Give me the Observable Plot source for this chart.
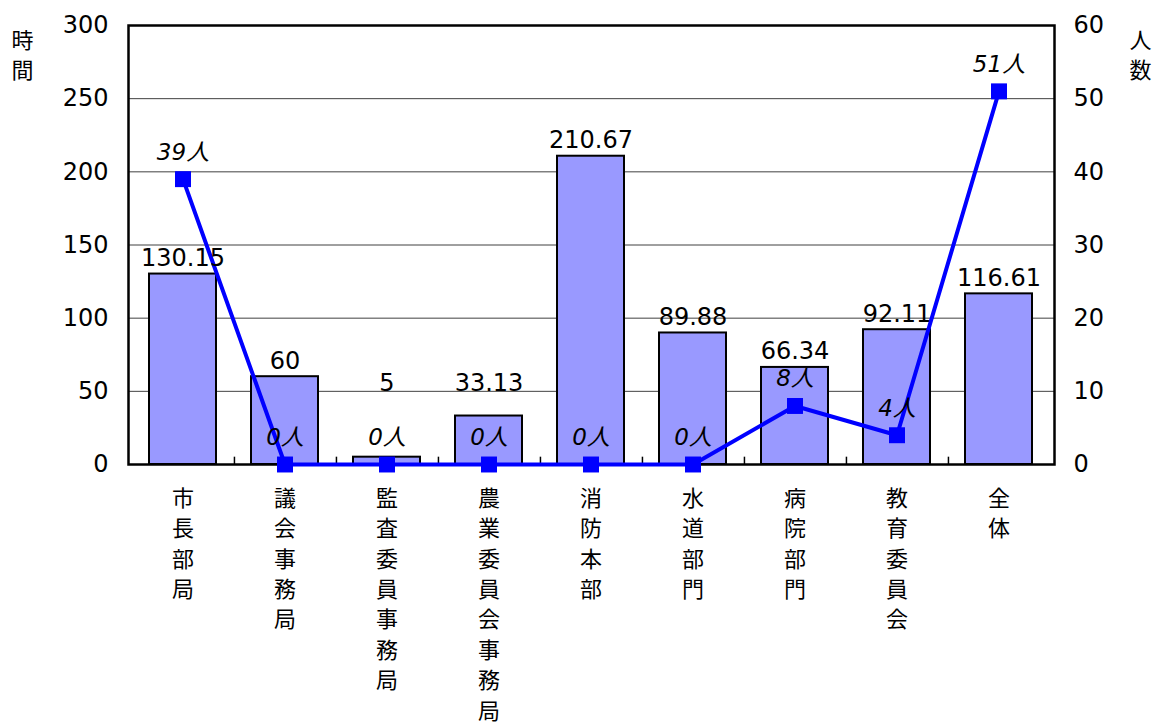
<!DOCTYPE html>
<html>
<head>
<meta charset="utf-8">
<script src="https://cdn.jsdelivr.net/npm/d3@7"></script>
<script src="https://cdn.jsdelivr.net/npm/@observablehq/plot@0.6"></script>
<style>
  html, body { margin: 0; padding: 0; background: #fff; }
  #chart svg { display: block; }
</style>
</head>
<body>
<div id="chart"></div>
<script>
const categories = ["市長部局", "議会事務局", "監査委員事務局", "農業委員会事務局", "消防本部", "水道部門", "病院部門", "教育委員会", "全体"];
const hours = [130.15, 60, 5, 33.13, 210.67, 89.88, 66.34, 92.11, 116.61];
const hourLabels = ["130.15", "60", "5", "33.13", "210.67", "89.88", "66.34", "92.11", "116.61"];
const people = [39, 0, 0, 0, 0, 0, 8, 4, 51];
const leftTicks = [0, 50, 100, 150, 200, 250, 300];
const rightTicks = [0, 10, 20, 30, 40, 50, 60];
const leftTitle = "時間";
const rightTitle = "人数";

const ratio = d3.max(leftTicks) / d3.max(rightTicks);
const data = categories.map((c, i) => ({cat: c, hours: hours[i], label: hourLabels[i], people: people[i], p: people[i] * ratio}));

const W = 1153, H = 724, mL = 128, mR = 99, mT = 25, mB = 260;
const step = (W - mL - mR) / categories.length;
// keep value labels of very short bars clear of the line labels at the baseline
const minLabelY = 45;
const numFont = "'DejaVu Sans', 'Noto Sans CJK JP', sans-serif";
const cjkFont = "'Noto Sans CJK JP', sans-serif";

const chart = Plot.plot({
  width: W, height: H,
  marginLeft: mL, marginRight: mR, marginTop: mT, marginBottom: mB,
  x: {domain: categories, paddingInner: 0.34, paddingOuter: 0.17, axis: null, label: null},
  y: {domain: [0, d3.max(leftTicks)], axis: null, label: null},
  style: {fontFamily: numFont, fontSize: "24px", color: "black", background: "white"},
  marks: [
    Plot.gridY(leftTicks.slice(1, -1), {stroke: "#000", strokeOpacity: 0.75, strokeWidth: 1}),
    Plot.barY(data, {x: "cat", y: "hours", fill: "#9999FF", stroke: "black", strokeWidth: 2}),
    Plot.ruleX(categories.slice(0, -1), {x: d => d, y1: 0, y2: 5, dx: step / 2, stroke: "black", strokeWidth: 1.5}),
    Plot.frame({stroke: "black", strokeWidth: 2.5}),
    Plot.lineY(data, {x: "cat", y: "p", stroke: "#0000FF", strokeWidth: 4}),
    Plot.dot(data, {x: "cat", y: "p", symbol: "square", r: 9, fill: "#0000FF", stroke: "none"}),
    Plot.text(data, {x: "cat", y: d => Math.max(d.hours, minLabelY), text: "label", lineAnchor: "bottom", dy: -8, fontSize: 24, letterSpacing: "1px", fill: "black"}),
    Plot.text(data, {x: "cat", y: "p", text: d => d.people + "人", fontStyle: "italic", dy: -27, fontSize: 23, letterSpacing: "1px", fill: "black"}),
    Plot.axisY(leftTicks, {anchor: "left", tickSize: 0, tickPadding: 20, fontSize: 24, letterSpacing: "1px", label: null}),
    Plot.axisY(leftTicks, {anchor: "right", tickSize: 0, tickPadding: 19, tickFormat: d => String(d / ratio), fontSize: 24, letterSpacing: "1px", label: null}),
    Plot.axisX({tickSize: 0, tickPadding: 20, tickFormat: d => [...d].join("\n"), lineHeight: 1.38, fontFamily: cjkFont, fontSize: 22, label: null}),
    Plot.text([[...leftTitle].join("\n")], {frameAnchor: "top-left", textAnchor: "middle", dx: 22 - mL, dy: 1, lineAnchor: "top", lineHeight: 1.38, fontFamily: cjkFont, fontSize: 22, fill: "black"}),
    Plot.text([[...rightTitle].join("\n")], {frameAnchor: "top-right", textAnchor: "middle", dx: 1140 - (W - mR), dy: 1, lineAnchor: "top", lineHeight: 1.38, fontFamily: cjkFont, fontSize: 22, fill: "black"})
  ]
});
document.getElementById("chart").append(chart);
</script>
</body>
</html>
